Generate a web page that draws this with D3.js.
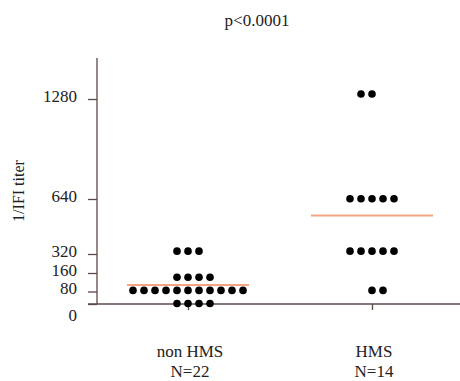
<!DOCTYPE html>
<html>
<head>
<meta charset="utf-8">
<script src="https://cdn.jsdelivr.net/npm/d3@7"></script>
<style>
    body { margin: 0; background: #fff; }
    svg text { font-family: "Liberation Serif", "Times New Roman", serif; fill: #222; }
</style>
</head>
<body>
<div id="chart"></div>
<script>
// one value per subject
const groups = ["non HMS", "HMS"];
const groupN = ["N=22", "N=14"];
const nonHmsTiters = [0, 0, 0, 0,
    80, 80, 80, 80, 80, 80, 80, 80, 80, 80, 80,
    160, 160, 160, 160,
    320, 320, 320];
const hmsTiters = [80, 80,
    320, 320, 320, 320, 320,
    640, 640, 640, 640, 640,
    1280, 1280];
const tickValues = [0, 80, 160, 320, 640, 1280];
const title = "p<0.0001";
const yTitle = "1/IFI titer";
// how each row of dots was dodged, in dot widths (0.5 = half a dot to the right)
const rowShift = [{0: 0.5, 160: 0.5}, {80: 0.5, 1280: -0.5}];

const width = 460, height = 381;
const axisX = 97, baseY = 304;

const svg = d3.select("#chart").append("svg")
    .attr("width", width)
    .attr("height", height);

const x = d3.scalePoint().domain(groups).range([188, 372]);
const y = d3.scaleLinear().domain([0, 1280]).range([303.5, 94]);
// the printed ticks are not quite on the data scale
const yTicks = d3.scaleLinear().domain(tickValues).range([304, 291.5, 273, 254, 199, 99]);

const axisColor = "#5b4a48";

// y axis
svg.append("line")
    .attr("x1", axisX).attr("x2", axisX)
    .attr("y1", 58).attr("y2", baseY)
    .attr("stroke", axisColor).attr("stroke-width", 1.3);

const gy = svg.append("g")
    .attr("transform", "translate(" + axisX + ",0)")
    .call(d3.axisLeft(yTicks)
        .tickValues(tickValues)
        .tickFormat(d3.format("d"))
        .tickSize(9).tickPadding(11).tickSizeOuter(0));
gy.select(".domain").remove();
gy.selectAll(".tick line").attr("stroke", axisColor).attr("stroke-width", 1.3);
gy.selectAll(".tick text")
    .attr("font-size", 17)
    .attr("fill", "#222")
    .attr("dy", d => d === 0 ? "0.95em" : "0.12em");

// x axis
svg.append("line")
    .attr("x1", 88).attr("x2", width)
    .attr("y1", baseY).attr("y2", baseY)
    .attr("stroke", axisColor).attr("stroke-width", 1.3);

const gx = svg.append("g")
    .attr("transform", "translate(0," + baseY + ")")
    .call(d3.axisBottom(x).tickSize(6).tickFormat(""));
gx.select(".domain").remove();
gx.selectAll(".tick line").attr("stroke", axisColor).attr("stroke-width", 1.3);

// category labels
groups.forEach((g, i) => {
    svg.append("text")
        .attr("x", x(g) + 2).attr("y", 357)
        .attr("text-anchor", "middle")
        .attr("font-size", 17)
        .text(g);
    svg.append("text")
        .attr("x", x(g) + 2).attr("y", 377)
        .attr("text-anchor", "middle")
        .attr("font-size", 17)
        .text(groupN[i]);
});

// dots, stacked side by side per titer
const spacing = 11;
const dots = [];
[nonHmsTiters, hmsTiters].forEach((vals, gi) => {
    d3.rollups(vals, v => v.length, d => d).forEach(([val, n]) => {
        const shift = rowShift[gi][val] || 0;
        for (let k = 0; k < n; k++) {
            dots.push({
                group: groups[gi],
                val: val,
                off: (k - (n - 1) / 2 + shift) * spacing
            });
        }
    });
});

svg.append("g").selectAll("circle")
    .data(dots)
    .enter()
    .append("circle")
    .attr("cx", d => x(d.group) + d.off)
    .attr("cy", d => y(d.val))
    .attr("r", 3.8)
    .attr("fill", "#000");

// mean lines
const means = [d3.mean(nonHmsTiters), d3.mean(hmsTiters)];
svg.append("g").selectAll("line")
    .data(means)
    .enter()
    .append("line")
    .attr("x1", (d, i) => x(groups[i]) - 61)
    .attr("x2", (d, i) => x(groups[i]) + 61)
    .attr("y1", d => y(d))
    .attr("y2", d => y(d))
    .attr("stroke", "#f4a383")
    .attr("stroke-width", 2);

// titles
svg.append("text")
    .attr("x", 257).attr("y", 26)
    .attr("text-anchor", "middle")
    .attr("font-size", 17)
    .text(title);

svg.append("text")
    .attr("transform", "translate(24,191) rotate(-90)")
    .attr("text-anchor", "middle")
    .attr("font-size", 16)
    .text(yTitle);
</script>
</body>
</html>
